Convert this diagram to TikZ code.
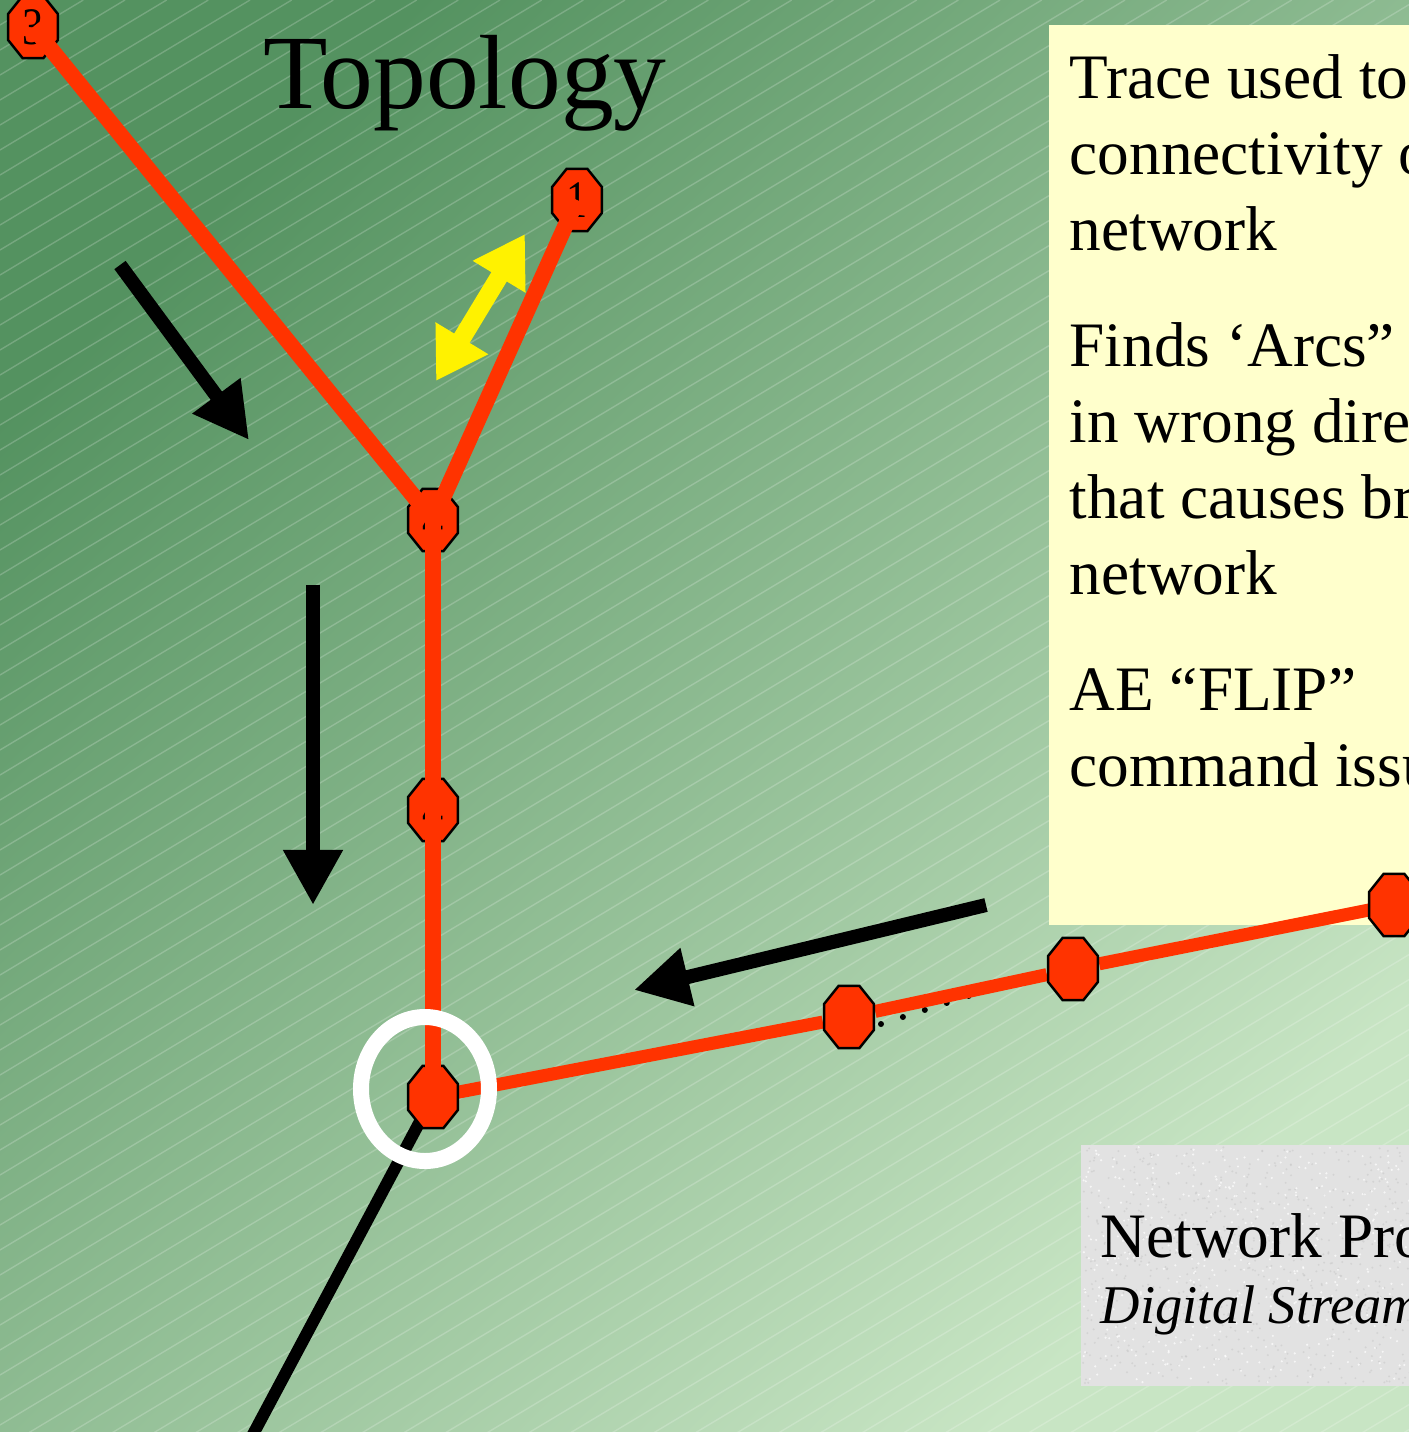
\documentclass[tikz,border=0pt]{standalone}
\usepackage{fontspec}
\setmainfont{Liberation Serif}
\usepackage{tikz}
\usetikzlibrary{arrows.meta, shapes.geometric, positioning}

\definecolor{bgdark}{RGB}{84,146,96}
\definecolor{bglight}{RGB}{200,229,196}
\definecolor{linkred}{RGB}{255,51,0}
\definecolor{notefill}{RGB}{255,255,204}
\definecolor{stampgrey}{RGB}{226,226,226}

\pgfdeclarelayer{bg}
\pgfdeclarelayer{back}
\pgfsetlayers{bg,back,main}

\begin{document}
\begin{tikzpicture}[x=0.01cm, y=-0.01cm]
	% Define styles
	\tikzset{
		vertex/.style={regular polygon, regular polygon sides=8, draw, line width=0.7pt, fill=linkred, minimum size=0.54cm, yscale=1.25, inner sep=0pt, font=\fontsize{12}{12}\selectfont},
		link/.style={draw=linkred, line width=0.16cm},
		flow/.style={draw, line width=0.14cm, -{Triangle[width=0.56cm, length=0.55cm]}},
		swap/.style={draw=yellow, line width=0.18cm, {Triangle[width=0.58cm, length=0.5cm]}-{Triangle[width=0.58cm, length=0.5cm]}},
		hatch/.style={draw=white, opacity=0.2, line width=0.4pt},
		notes/.style={align=left, inner sep=0pt, font=\fontsize{18}{21.6}\selectfont},
		ring/.style={draw=white, line width=0.16cm}
	}
	\useasboundingbox (0,0) rectangle (1409,1432);

	% Background
	\begin{pgfonlayer}{bg}
		\shade[top color=bgdark, bottom color=bglight, shading angle=45] (0,0) rectangle (1409,1432);
		\begin{scope}
			\clip (0,0) rectangle (1409,1432);
			\foreach \c in {0,25,...,2300}
				\draw[hatch] (0,\c) -- ({\c/0.6},0);
		\end{scope}
	\end{pgfonlayer}

	% Title
	\node[font=\fontsize{30}{30}\selectfont, anchor=base, inner sep=0pt] (title) at (465,108) {Topology};

	% Nodes
	\node[vertex] (v3) at (33,27) {3};
	\node[vertex] (v1) at (577,200) {1};
	\node[vertex] (v2) at (433,520) {4};
	\node[vertex] (v4) at (433,810) {4};
	\node[vertex] (v0) at (433,1097) {};
	\node[vertex] (v5) at (849,1017) {};
	\node[vertex] (v6) at (1073,969) {};
	\node[vertex] (v7) at (1394,905) {};

	\coordinate (tailend) at (250,1440);

	% Boxes and lower links
	\begin{pgfonlayer}{back}
		\fill[notefill] (1049,25) rectangle (1420,925);
		\fill[stampgrey] (1081,1145) rectangle (1420,1386);
		\pgfmathsetseed{11}
		\foreach \i in {1,...,700}
			\fill[gray!45, opacity=0.5] ({1083+335*rnd},{1147+237*rnd}) circle (1.1);
		\foreach \i in {1,...,500}
			\fill[white, opacity=0.7] ({1083+335*rnd},{1147+237*rnd}) circle (1.2);
		\draw[line width=0.06cm, dash pattern=on 0pt off 0.23cm, line cap=round]
			([shift={(32,7)}]v5.center) -- ([shift={(-42,7)}]v6.center);
		\draw[link, line width=0.13cm] (v0.center) -- (v5) -- (v6) -- (v7.center);
		\draw[line width=0.12cm] (v0.center) -- (tailend);
	\end{pgfonlayer}

	% Upper links
	\path [link] (v3.center) -- (v2.center);
	\path [link] (v1.center) -- (v2.center);
	\path [link] (v2.center) -- (v0.center);

	% Text
	\node[notes, anchor=base west] (trace) at (1069,786) {Trace used to\\connectivity o\\network\\[0.4cm]Finds ‘Arcs”\\in wrong dire\\that causes br\\network\\[0.4cm]AE “FLIP”\\command issu};
	\node[anchor=base west, inner sep=0pt, font=\fontsize{18}{18}\selectfont] (press) at (1100,1257) {Network Pro};
	\node[anchor=base west, inner sep=0pt, font=\fontsize{15.5}{15.5}\selectfont\itshape] (stream) at (1100,1323) {Digital Stream};

	% Arrows
	\coordinate (a1s) at (120,265);
	\coordinate (a1e) at (249,440);
	\coordinate (a2s) at (313,585);
	\coordinate (a2e) at (313,905);
	\coordinate (a3s) at (986,905);
	\coordinate (a3e) at (634,990);
	\coordinate (y1) at (436,381);
	\coordinate (y2) at (525,234);
	\path [flow] (a1s) -- (a1e);
	\path [flow] (a2s) -- (a2e);
	\path [flow] (a3s) -- (a3e);
	\path [swap] (y1) -- (y2);

	% Junction marker
	\draw[ring] (425,1089) ellipse [x radius=64, y radius=72];
\end{tikzpicture}
\end{document}
